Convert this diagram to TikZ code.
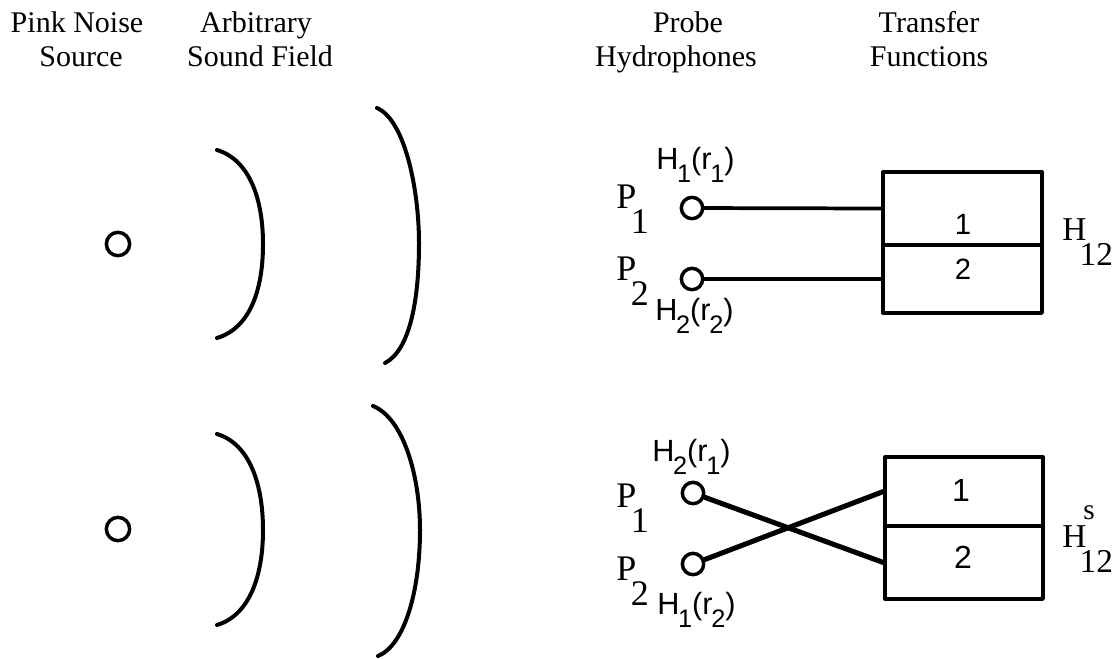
\documentclass[tikz,border=0pt]{standalone}
\usepackage{fontspec}
\setmainfont{Liberation Serif}
\newfontfamily\hsf{Liberation Sans}
\newcommand\lowr[2]{\raisebox{-#1}{#2}}
\begin{document}
\begin{tikzpicture}[x=0.75pt,y=-0.75pt,line cap=round,line join=round,
  hdr/.style={font=\fontsize{22.5}{24}\selectfont,anchor=base,inner sep=0},
  src/.style={circle,draw,line width=2.6pt,minimum size=17.5pt,inner sep=0},
  probe/.style={circle,draw,line width=2.6pt,minimum size=16pt,inner sep=0},
  wave/.style={line width=3pt},
  cell/.style={draw,line width=2.5pt,inner sep=0},
  wire/.style={line width=2.8pt},
  xwire/.style={line width=3.8pt},
  hlab/.style={font=\hsf\fontsize{23}{25}\selectfont,anchor=base west,inner sep=0},
  plab/.style={font=\fontsize{27}{29}\selectfont,anchor=base west,inner sep=0},
  num/.style={font=\hsf\fontsize{22}{24}\selectfont,inner sep=0},
  bnum/.style={font=\hsf\fontsize{24}{26}\selectfont,inner sep=0},
  hh/.style={font=\fontsize{25}{27}\selectfont,anchor=base west,inner sep=0},
  sup/.style={font=\fontsize{22}{24}\selectfont,anchor=base west,inner sep=0}]
\useasboundingbox (0,0) rectangle (1119,658);
% headers
\node[hdr] (h1a) at (77,32) {Pink Noise};
\node[hdr] (h1b) at (81,66) {Source};
\node[hdr] (h2a) at (256,32) {Arbitrary};
\node[hdr] (h2b) at (260,66) {Sound Field};
\node[hdr] (h3a) at (688,32) {Probe};
\node[hdr] (h3b) at (676,66) {Hydrophones};
\node[hdr] (h4a) at (929,32) {Transfer};
\node[hdr] (h4b) at (929,66) {Functions};
% sources
\node[src] (s1) at (118,244) {};
\node[src] (s2) at (118,529) {};
% wavefronts
\draw[wave] (217,150) .. controls (250,160) and (263,200) .. (263,244)
  .. controls (263,290) and (250,328) .. (217,338);
\draw[wave] (377,108) .. controls (405,120) and (419,190) .. (419,243)
  .. controls (419,300) and (410,350) .. (385,363);
\draw[wave] (217,434) .. controls (250,444) and (263,485) .. (263,530)
  .. controls (263,575) and (250,615) .. (217,625);
\draw[wave] (373,406) .. controls (403,418) and (420,475) .. (420,530)
  .. controls (420,590) and (405,645) .. (378,656);
% top probes and boxes
\node[probe] (pa1) at (692,208) {};
\node[probe] (pa2) at (692,279) {};
\node[cell,minimum width=119.25pt,minimum height=54.75pt] (ba1) at (962.5,208.5) {};
\node[cell,minimum width=119.25pt,minimum height=51pt] (ba2) at (962.5,279) {};
\node[num] (na1) at (963,224) {1};
\node[num] (na2) at (963,269) {2};
\draw[wire] (pa1) -- (ba1.west);
\draw[wire] (pa2) -- (ba2.west);
\node[hlab] (la1) at (656,169) {H\kern-1pt\lowr{0.45em}{\fontsize{19}{19}\selectfont 1}(r\kern-1pt\lowr{0.45em}{\fontsize{19}{19}\selectfont 1})};
\node[hlab] (la2) at (655,320) {H\kern-1pt\lowr{0.45em}{\fontsize{19}{19}\selectfont 2}(r\kern-1pt\lowr{0.45em}{\fontsize{19}{19}\selectfont 2})};
\node[plab] (qa1) at (616,208) {P\kern-4pt\lowr{0.7em}{1}};
\node[plab] (qa2) at (616,280) {P\kern-4pt\lowr{0.7em}{2}};
\node[hh] (Ha) at (1062,240) {H\kern-5pt\lowr{0.75em}{12}};
% bottom probes and boxes
\node[probe] (pb1) at (693,493) {};
\node[probe] (pb2) at (693,564) {};
\node[cell,minimum width=118.5pt,minimum height=51.75pt] (bb1) at (964,491.5) {};
\node[cell,minimum width=118.5pt,minimum height=54.75pt] (bb2) at (964,562.5) {};
\node[bnum] (nb1) at (961,490) {1};
\node[bnum] (nb2) at (963,557) {2};
\draw[xwire] (pb1) -- (bb2.west);
\draw[xwire] (pb2) -- (bb1.west);
\node[hlab] (lb1) at (652,461) {H\kern-1pt\lowr{0.45em}{\fontsize{19}{19}\selectfont 2}(r\kern-1pt\lowr{0.45em}{\fontsize{19}{19}\selectfont 1})};
\node[hlab] (lb2) at (657,614) {H\kern-1pt\lowr{0.45em}{\fontsize{19}{19}\selectfont 1}(r\kern-1pt\lowr{0.45em}{\fontsize{19}{19}\selectfont 2})};
\node[plab] (qb1) at (616,507) {P\kern-4pt\lowr{0.7em}{1}};
\node[plab] (qb2) at (616,580) {P\kern-4pt\lowr{0.7em}{2}};
\node[hh] (Hb) at (1062,547) {H\kern-5pt\lowr{0.75em}{12}};
\node[sup] (Hs) at (1083,519) {s};
\end{tikzpicture}
\end{document}
